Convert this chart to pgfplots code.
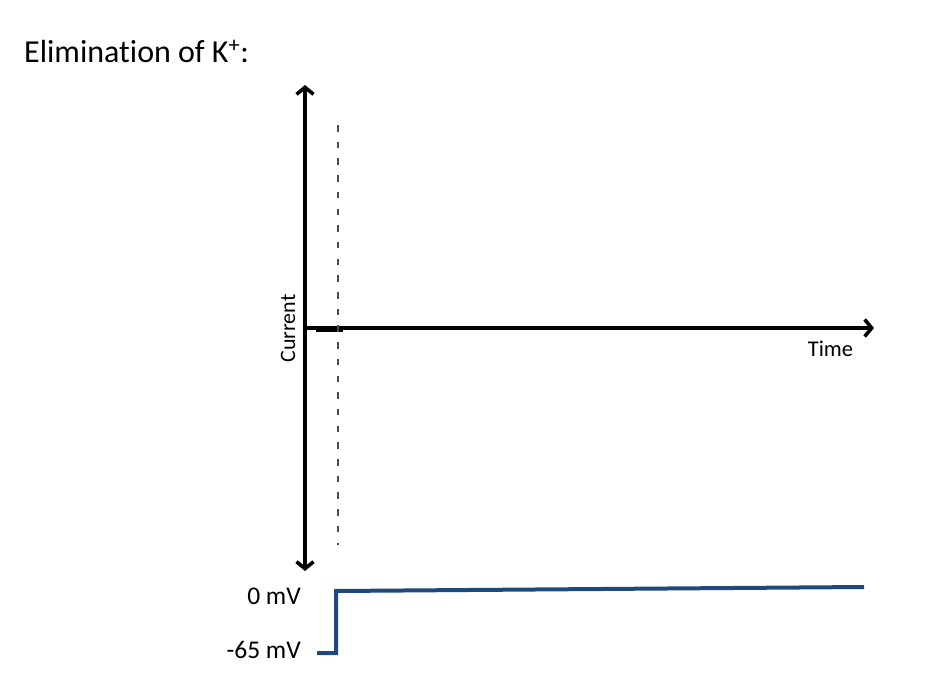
\documentclass[border=0pt]{standalone}
\usepackage{pgfplots}
\pgfplotsset{compat=1.18}
\usetikzlibrary{arrows.meta}
\usepackage{fontspec}
\setmainfont[RawFeature=-liga]{Carlito}
\definecolor{vblue}{RGB}{31,73,125}
\begin{document}
\begin{tikzpicture}
\begin{axis}[width=952pt,height=696pt,scale only axis,
  xmin=0,xmax=952,ymin=0,ymax=696,y dir=reverse,hide axis,clip=false]
\path (axis cs:0,0) rectangle (axis cs:952,696);
% axes arrows
\addplot[black,line width=3.6pt,{Straight Barb[length=7pt,width=17pt]}-{Straight Barb[length=7pt,width=17pt]}] coordinates {(305,85)(305,571)};
\addplot[black,line width=3.6pt,-{Straight Barb[length=7pt,width=17pt]}] coordinates {(305,328)(874,328)};
% current trace
\addplot[black,line width=5pt] coordinates {(316,329)(343,329)};
% dashed marker
\addplot[black!70,line width=2.6pt,dash pattern=on 6.5pt off 10.2pt] coordinates {(338,125)(338,545)};
% voltage step
\addplot[vblue,line width=4pt] coordinates {(317,653)(336,653)(336,591)(864,587)};
% texts
\node[anchor=base west,inner sep=0pt,font=\fontsize{32}{36}\selectfont] at (axis cs:24,62) {Elimination of K\textsuperscript{+}:};
\node[rotate=90,font=\fontsize{22}{26}\selectfont] at (axis cs:288,328.5) {Current};
\node[anchor=base,inner sep=0pt,font=\fontsize{22.5}{26}\selectfont] at (axis cs:830.5,356) {Time};
\node[anchor=east,inner sep=0pt,font=\fontsize{25.5}{30}\selectfont] at (axis cs:301,596.5) {0 mV};
\node[anchor=east,inner sep=0pt,font=\fontsize{25.5}{30}\selectfont] at (axis cs:301,650) {-65 mV};
\end{axis}
\end{tikzpicture}
\end{document}
